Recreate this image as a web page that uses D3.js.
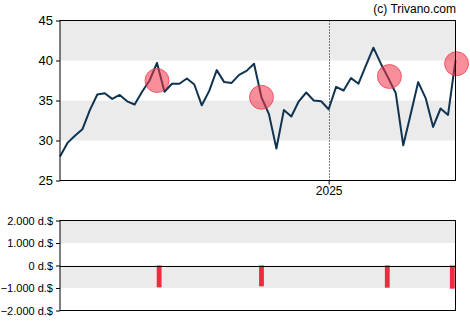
<!DOCTYPE html>
<html>
<head>
<meta charset="utf-8">
<script src="https://cdn.jsdelivr.net/npm/d3@7"></script>
<style>
  body { margin: 0; background: #fff; }
  svg text { font-family: "Liberation Sans", Arial, sans-serif; fill: #000; }
</style>
</head>
<body>
<svg id="chart" width="470" height="325"></svg>
<script>
// weekly closing prices, first week starts 2024-04-24
const startDate = new Date(2024, 3, 24);
const prices = [
  28.0, 29.7, 30.6, 31.4, 33.8, 35.75, 35.9, 35.2, 35.7, 34.9,
  34.5, 36.1, 37.5, 39.7, 36.1, 37.1, 37.1, 37.75, 37.0, 34.4,
  36.2, 38.8, 37.3, 37.2, 38.2, 38.7, 39.6, 35.4, 33.3, 29.0,
  33.8, 33.0, 34.9, 36.0, 35.0, 34.9, 33.9, 36.7, 36.25, 37.8,
  37.1, 39.4, 41.6, 39.6, 37.8, 35.9, 29.4, 33.3, 37.3, 35.3,
  31.7, 34.0, 33.2, 40.0
];

// insider trades: marker date/price and bar date/amount (thousand $)
const tradeDates = ["2024-07-24", "2024-10-30", "2025-02-27", "2025-05-01"];
const tradePrices = [37.5, 35.4, 38.0, 39.6];
const barDates = ["2024-07-26", "2024-10-30", "2025-02-25", "2025-04-27"];
const barValues = [-970, -925, -985, -1030];

const priceTicks = [25, 30, 35, 40, 45];
const flowTicks = [2000, 1000, 0, -1000, -2000];

const dates = prices.map((p, i) => d3.timeWeek.offset(startDate, i));
const parse = d3.timeParse("%Y-%m-%d");

const svg = d3.select("#chart");
const plotL = 60, plotR = 455.5;
const plotT = 20.5, plotB = 180.5;
const lowT = 220.5, lowB = 310.5;

const x = d3.scaleTime()
  .domain([dates[0], dates[dates.length - 1]])
  .range([plotL, plotR]);
const y = d3.scaleLinear().domain([25, 45]).range([plotB, plotT]);
const y2 = d3.scaleLinear().domain([-2000, 2000]).range([lowB, lowT]);

// alternating background bands
[[30, 35], [40, 45]].forEach(([a, b]) => {
  svg.append("rect")
    .attr("x", plotL).attr("width", plotR - plotL)
    .attr("y", y(b)).attr("height", y(a) - y(b))
    .attr("fill", "#ebebeb");
});
[[-1000, 0], [1000, 2000]].forEach(([a, b]) => {
  svg.append("rect")
    .attr("x", plotL).attr("width", plotR - plotL)
    .attr("y", y2(b)).attr("height", y2(a) - y2(b))
    .attr("fill", "#ebebeb");
});

// year separator
const yearMark = new Date(2025, 0, 1);
svg.append("line")
  .attr("x1", Math.round(x(yearMark)) + 0.5).attr("x2", Math.round(x(yearMark)) + 0.5)
  .attr("y1", plotT).attr("y2", plotB)
  .attr("stroke", "#000").attr("stroke-dasharray", "1,2");

// price line
const line = d3.line()
  .x((d, i) => x(dates[i]))
  .y(d => y(d));
svg.append("path")
  .datum(prices)
  .attr("d", line)
  .attr("fill", "none")
  .attr("stroke", "#0f3350")
  .attr("stroke-width", 2)
  .attr("stroke-linejoin", "round");

// trade markers
svg.selectAll("circle.trade")
  .data(tradePrices)
  .enter().append("circle")
  .attr("class", "trade")
  .attr("cx", (d, i) => x(parse(tradeDates[i])))
  .attr("cy", d => y(d))
  .attr("r", 12)
  .attr("fill", "rgba(240, 50, 70, 0.55)")
  .attr("stroke", "rgba(240, 50, 70, 0.7)")
  .attr("stroke-width", 1);

// trade amount bars
svg.selectAll("rect.flow")
  .data(barValues)
  .enter().append("rect")
  .attr("class", "flow")
  .attr("x", (d, i) => x(parse(barDates[i])) - 2.4)
  .attr("width", 4.8)
  .attr("y", d => y2(Math.max(0, d)))
  .attr("height", d => Math.abs(y2(d) - y2(0)))
  .attr("fill", "#ee2a3f");

// frames
svg.append("rect")
  .attr("x", plotL).attr("y", plotT)
  .attr("width", plotR - plotL).attr("height", plotB - plotT)
  .attr("fill", "none").attr("stroke", "#000");
svg.append("rect")
  .attr("x", plotL).attr("y", lowT)
  .attr("width", plotR - plotL).attr("height", lowB - lowT)
  .attr("fill", "none").attr("stroke", "#000");
svg.append("line")
  .attr("x1", plotL).attr("x2", plotR)
  .attr("y1", Math.round(y2(0)) + 0.5).attr("y2", Math.round(y2(0)) + 0.5)
  .attr("stroke", "#000");

// axes
const yAxis = svg.append("g")
  .attr("transform", `translate(${plotL},0)`)
  .call(d3.axisLeft(y).tickValues(priceTicks).tickSize(4).tickPadding(3));
yAxis.selectAll("text").style("font-size", "13px");

const y2Axis = svg.append("g")
  .attr("transform", `translate(${plotL},0)`)
  .call(d3.axisLeft(y2).tickValues(flowTicks).tickSize(4).tickPadding(3)
    .tickFormat(d => d3.format(",")(d).replace(/,/g, ".") + " d.$"));
y2Axis.selectAll("text").style("font-size", "11px");

const xAxis = svg.append("g")
  .attr("transform", `translate(0,${plotB})`)
  .call(d3.axisBottom(x).tickValues([yearMark]).tickSize(4).tickPadding(2)
    .tickFormat(d3.timeFormat("%Y")));
xAxis.selectAll("text").style("font-size", "12px");

[yAxis, y2Axis, xAxis].forEach(g => {
  g.select(".domain").remove();
  g.selectAll("line").attr("stroke", "#000");
});

svg.append("text")
  .attr("x", 456).attr("y", 13)
  .attr("text-anchor", "end")
  .style("font-size", "12px")
  .text("(c) Trivano.com");
</script>
</body>
</html>
